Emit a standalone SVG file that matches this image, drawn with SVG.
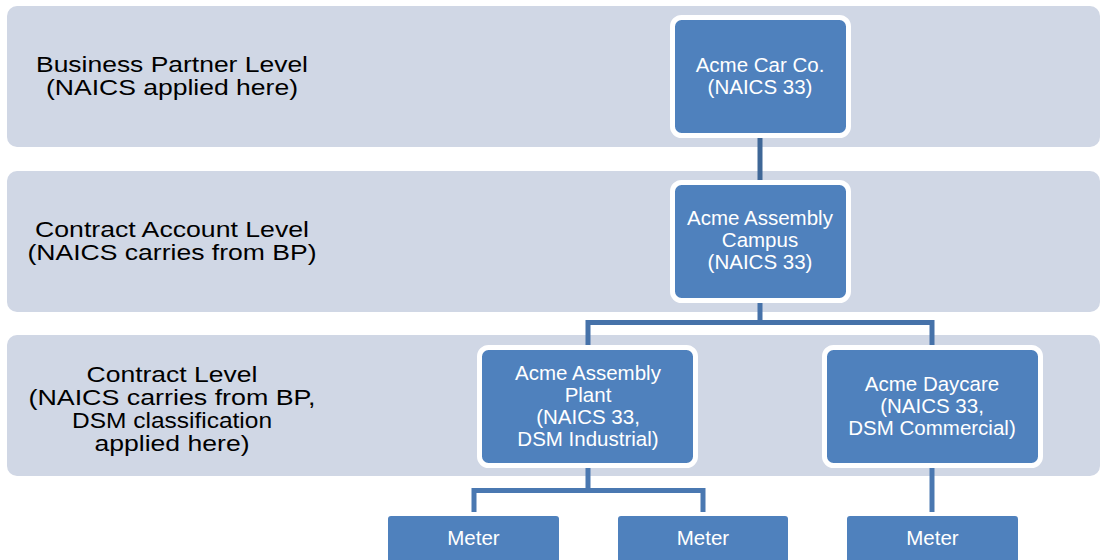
<svg xmlns="http://www.w3.org/2000/svg" width="1101" height="560" viewBox="0 0 1101 560">
  <style>
    .band { fill: #D0D7E5; }
    .level { font-family: "Liberation Sans", Arial, sans-serif; font-size: 22px; fill: #000000; text-anchor: middle; }
    .node { fill: #4F81BD; stroke: #FFFFFF; stroke-width: 5; }
    .meter { fill: #4F81BD; }
    .label { font-family: "Liberation Sans", Arial, sans-serif; font-size: 20.5px; fill: #FFFFFF; text-anchor: middle; }
    .wire { fill: none; stroke-width: 5; stroke-linejoin: miter; }
  </style>

  <rect width="1101" height="560" fill="#FFFFFF"/>

  <!-- level bands -->
  <g id="band-business-partner">
    <rect class="band" x="7" y="6" width="1093" height="141" rx="10"/>
    <text class="level" x="172" y="71.5" textLength="272" lengthAdjust="spacingAndGlyphs">Business Partner Level</text>
    <text class="level" x="172" y="95" textLength="252" lengthAdjust="spacingAndGlyphs">(NAICS applied here)</text>
  </g>
  <g id="band-contract-account">
    <rect class="band" x="7" y="171" width="1093" height="141" rx="10"/>
    <text class="level" x="172" y="236.5" textLength="274" lengthAdjust="spacingAndGlyphs">Contract Account Level</text>
    <text class="level" x="172" y="260" textLength="289" lengthAdjust="spacingAndGlyphs">(NAICS carries from BP)</text>
  </g>
  <g id="band-contract">
    <rect class="band" x="7" y="335" width="1093" height="141" rx="10"/>
    <text class="level" x="172" y="381.5" textLength="171" lengthAdjust="spacingAndGlyphs">Contract Level</text>
    <text class="level" x="172" y="404.5" textLength="287" lengthAdjust="spacingAndGlyphs">(NAICS carries from BP,</text>
    <text class="level" x="172" y="427.5" textLength="200" lengthAdjust="spacingAndGlyphs">DSM classification</text>
    <text class="level" x="172" y="450.5" textLength="155" lengthAdjust="spacingAndGlyphs">applied here)</text>
  </g>

  <!-- connectors -->
  <g id="connectors">
    <path class="wire" stroke="#3F6797" d="M760 133 V185"/>
    <path class="wire" stroke="#4672A9" d="M760 298 V322.5 M588 350 V322.5 H932 V350"/>
    <path class="wire" stroke="#4A78B1" d="M588 463 V490.5 M474 512 V490.5 H703 V512"/>
    <path class="wire" stroke="#4A78B1" d="M932 463 V512"/>
  </g>

  <!-- nodes -->
  <g id="node-acme-car-co">
    <rect class="node" x="672.5" y="17.5" width="176" height="118" rx="9"/>
    <text class="label" x="760" y="72">Acme Car Co.</text>
    <text class="label" x="760" y="94">(NAICS 33)</text>
  </g>
  <g id="node-acme-assembly-campus">
    <rect class="node" x="672.5" y="182.5" width="176" height="118" rx="9"/>
    <text class="label" x="760" y="225">Acme Assembly</text>
    <text class="label" x="760" y="247">Campus</text>
    <text class="label" x="760" y="269">(NAICS 33)</text>
  </g>
  <g id="node-acme-assembly-plant">
    <rect class="node" x="479.5" y="347.5" width="216" height="118" rx="9"/>
    <text class="label" x="588" y="380">Acme Assembly</text>
    <text class="label" x="588" y="401.8">Plant</text>
    <text class="label" x="588" y="423.6">(NAICS 33,</text>
    <text class="label" x="588" y="445.5">DSM Industrial)</text>
  </g>
  <g id="node-acme-daycare">
    <rect class="node" x="824.5" y="347.5" width="216" height="118" rx="9"/>
    <text class="label" x="932" y="390.7">Acme Daycare</text>
    <text class="label" x="932" y="412.7">(NAICS 33,</text>
    <text class="label" x="932" y="435">DSM Commercial)</text>
  </g>
  <g id="node-meter-1">
    <rect class="meter" x="388" y="516" width="171" height="60" rx="3"/>
    <text class="label" x="473.5" y="545" font-size="20">Meter</text>
  </g>
  <g id="node-meter-2">
    <rect class="meter" x="618" y="516" width="170" height="60" rx="3"/>
    <text class="label" x="703" y="545" font-size="20">Meter</text>
  </g>
  <g id="node-meter-3">
    <rect class="meter" x="847" y="516" width="171" height="60" rx="3"/>
    <text class="label" x="932.5" y="545" font-size="20">Meter</text>
  </g>
</svg>
